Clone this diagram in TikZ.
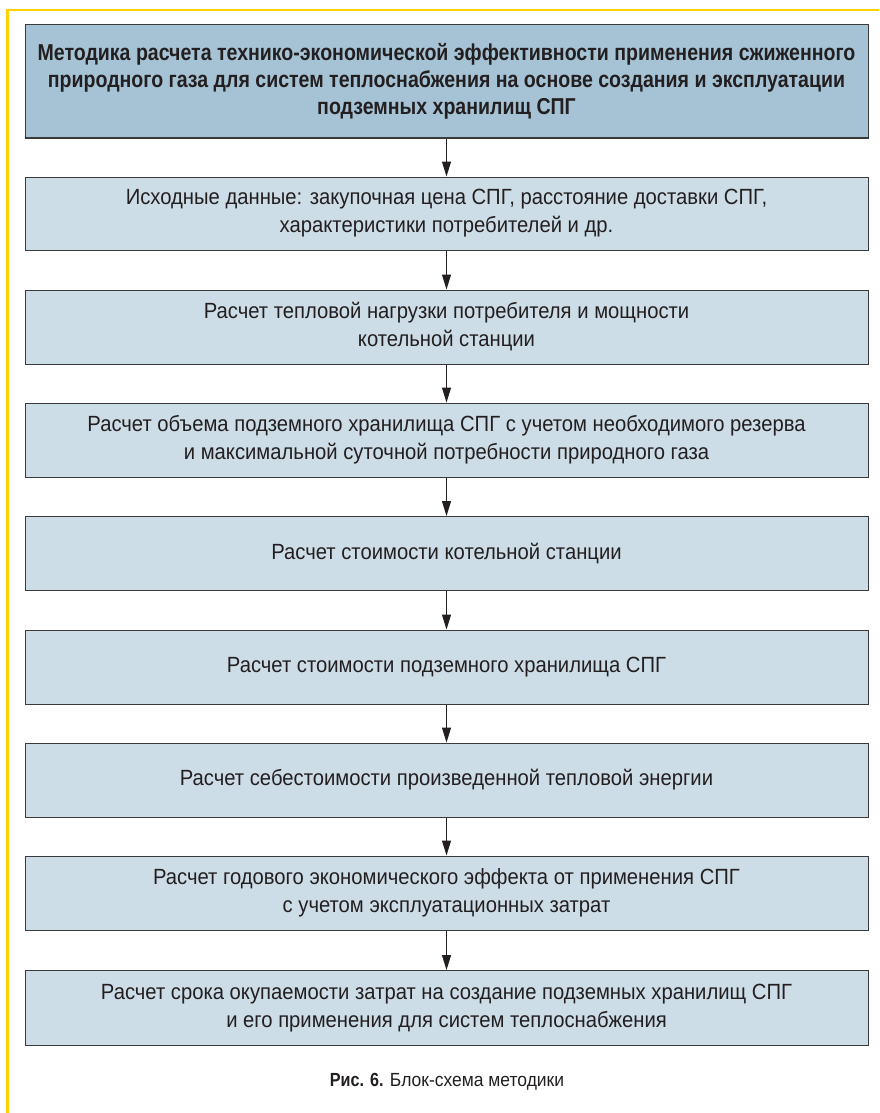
\documentclass[tikz,border=0pt]{standalone}
\usepackage{fontspec}
\setmainfont{Liberation Sans}[FakeStretch=0.92,BoldFeatures={FakeStretch=0.85}]
\usetikzlibrary{arrows.meta}
\definecolor{frameyellow}{HTML}{FFD200}
\definecolor{headfill}{HTML}{A6C3D5}
\definecolor{stepfill}{HTML}{CCDDE7}
\definecolor{edgegray}{HTML}{3A3A3A}
\definecolor{txt}{HTML}{231F20}
\tikzset{
  x=1pt,y=1pt,
  box/.style={draw=edgegray,line width=1pt,minimum width=843pt,inner sep=0pt,
    align=center,text=txt,font=\fontsize{22}{28}\selectfont},
  headbox/.style={box,fill=headfill,minimum height=113pt,font=\fontsize{23}{27}\selectfont\bfseries},
  stepbox/.style={box,fill=stepfill,minimum height=74pt},
  flow/.style={draw=txt,line width=1pt,-{Triangle[width=9pt,length=15pt]}}
}
\begin{document}
\begin{tikzpicture}
\useasboundingbox (0,0) rectangle (879,-1113);
\fill[white] (0,0) rectangle (879,-1113);
\draw[frameyellow,line width=2.6pt] (7.5,-1113) -- (7.5,-10) -- (879,-10);
\node[headbox] (n1) at (446.5,-81.5) {Методика расчета технико-экономической эффективности применения сжиженного\\природного газа для систем теплоснабжения на основе создания и эксплуатации\\подземных хранилищ СПГ};
\node[stepbox,minimum height=73pt] (n2) at (446.5,-213.5) {Исходные данные: закупочная цена СПГ, расстояние доставки СПГ,\\характеристики потребителей и др.};
\node[stepbox] (n3) at (446.5,-327) {Расчет тепловой нагрузки потребителя и мощности\\котельной станции};
\node[stepbox] (n4) at (446.5,-440) {Расчет объема подземного хранилища СПГ с учетом необходимого резерва\\и максимальной суточной потребности природного газа};
\node[stepbox] (n5) at (446.5,-553.5) {Расчет стоимости котельной станции};
\node[stepbox] (n6) at (446.5,-667) {Расчет стоимости подземного хранилища СПГ};
\node[stepbox] (n7) at (446.5,-780) {Расчет себестоимости произведенной тепловой энергии};
\node[stepbox] (n8) at (446.5,-893) {Расчет годового экономического эффекта от применения СПГ\\с учетом эксплуатационных затрат};
\node[stepbox,minimum height=75pt] (n9) at (446.5,-1008) {Расчет срока окупаемости затрат на создание подземных хранилищ СПГ\\и его применения для систем теплоснабжения};
\node[text=txt,font=\fontsize{19}{22}\selectfont,inner sep=0pt] (cap) at (447,-1082) {\textbf{Рис. 6.} Блок-схема методики};
\foreach \a/\b in {n1/n2,n2/n3,n3/n4,n4/n5,n5/n6,n6/n7,n7/n8,n8/n9}
  \draw[flow] (\a.south) -- (\b.north);
\end{tikzpicture}
\end{document}
